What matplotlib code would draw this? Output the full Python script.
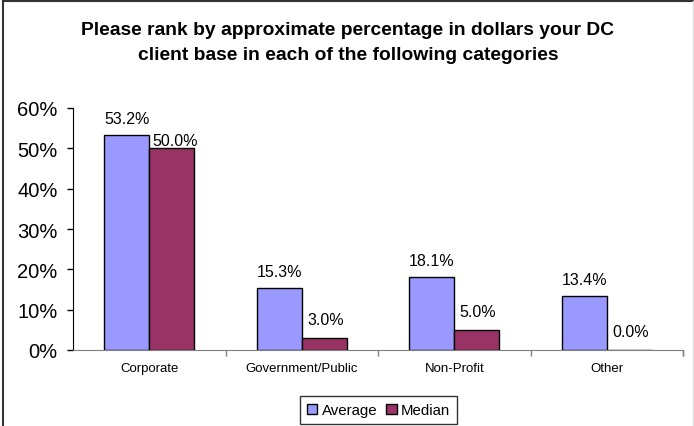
import matplotlib
matplotlib.use("Agg")
import matplotlib.pyplot as plt
from matplotlib.lines import Line2D
from matplotlib.patches import Patch
import numpy as np

categories = ["Corporate", "Government/Public", "Non-Profit", "Other"]
average = [53.2, 15.3, 18.1, 13.4]
median = [50.0, 3.0, 5.0, 0.0]
yticks = [0, 10, 20, 30, 40, 50, 60]
title = "Please rank by approximate percentage in dollars your DC\nclient base in each of the following categories"

plt.rcParams['font.family'] = ['Liberation Sans', 'DejaVu Sans']

W, H = 694, 427
fig = plt.figure(figsize=(W / 100, H / 100), dpi=100)
ax = fig.add_axes([73 / W, 1 - 351 / H, (683 - 73) / W, (351 - 109) / H])

x = np.arange(len(categories))
bw = 0.295
c_avg = "#9999FF"
c_med = "#993366"
b1 = ax.bar(x - bw / 2, average, bw, color=c_avg, edgecolor="black", linewidth=1)
b2 = ax.bar(x + bw / 2, median, bw, color=c_med, edgecolor="black", linewidth=1)

for i, (xi, v) in enumerate(zip(x, average)):
    ax.annotate(f"{v:.1f}%", (xi - bw / 2, v), xytext=(0, 12), textcoords="offset points",
                ha="center", va="center", fontsize=11.5)
for i, (xi, v) in enumerate(zip(x, median)):
    off = 5.5 if i == 0 else 13
    dx = 2.5 if i == 0 else 1
    ax.annotate(f"{v:.1f}%", (xi + bw / 2, v), xytext=(dx, off), textcoords="offset points",
                ha="center", va="center", fontsize=11.5)

ax.set_xlim(-0.5, len(categories) - 0.5)
ax.set_ylim(0, 60)
ax.set_yticks(yticks)
ax.set_yticklabels([f"{t}%" for t in yticks], fontsize=14.5)
ax.tick_params(axis="y", direction="out", length=4, width=1, pad=7, color="black")

ax.set_xticks(np.arange(0.5, len(categories) - 0.5 + 1e-9, 1.0).tolist() + [len(categories) - 0.5])
ax.set_xticklabels([])
ax.tick_params(axis="x", which="major", direction="out", length=4, width=1, color="#808080")
ax.set_xticks(x, minor=True)
ax.set_xticklabels(categories, minor=True, fontsize=9.5)
ax.tick_params(axis="x", which="minor", length=0, pad=9)

for s in ["top", "right"]:
    ax.spines[s].set_visible(False)
ax.spines["left"].set_color("black")
ax.spines["bottom"].set_color("#808080")

fig.text(348 / W, 1 - 43 / H, title, ha="center", va="center", fontsize=13.9,
         fontweight="bold", linespacing=1.55)

handles = [Patch(facecolor=c_avg, edgecolor="black", label="Average"),
           Patch(facecolor=c_med, edgecolor="black", label="Median")]
leg = fig.legend(handles=handles, loc="center", bbox_to_anchor=(378.5 / W, 1 - 411 / H),
                 ncol=2, fontsize=10.8, frameon=True, fancybox=False, edgecolor="black",
                 handlelength=0.7, handleheight=0.7, handletextpad=0.3, columnspacing=0.6,
                 borderpad=0.45, borderaxespad=0)
leg.get_frame().set_linewidth(1)

# outer chart frame
fig.add_artist(Line2D([3 / W, 3 / W], [0, 1 - 2 / H], color="#333333", lw=1.5, transform=fig.transFigure))
fig.add_artist(Line2D([3 / W, 1], [1 - 2 / H, 1 - 2 / H], color="#333333", lw=1.5, transform=fig.transFigure))
fig.add_artist(Line2D([692.5 / W, 692.5 / W], [0, 1 - 2 / H], color="#dddddd", lw=1, transform=fig.transFigure))

fig.savefig("out.png", dpi=100)
